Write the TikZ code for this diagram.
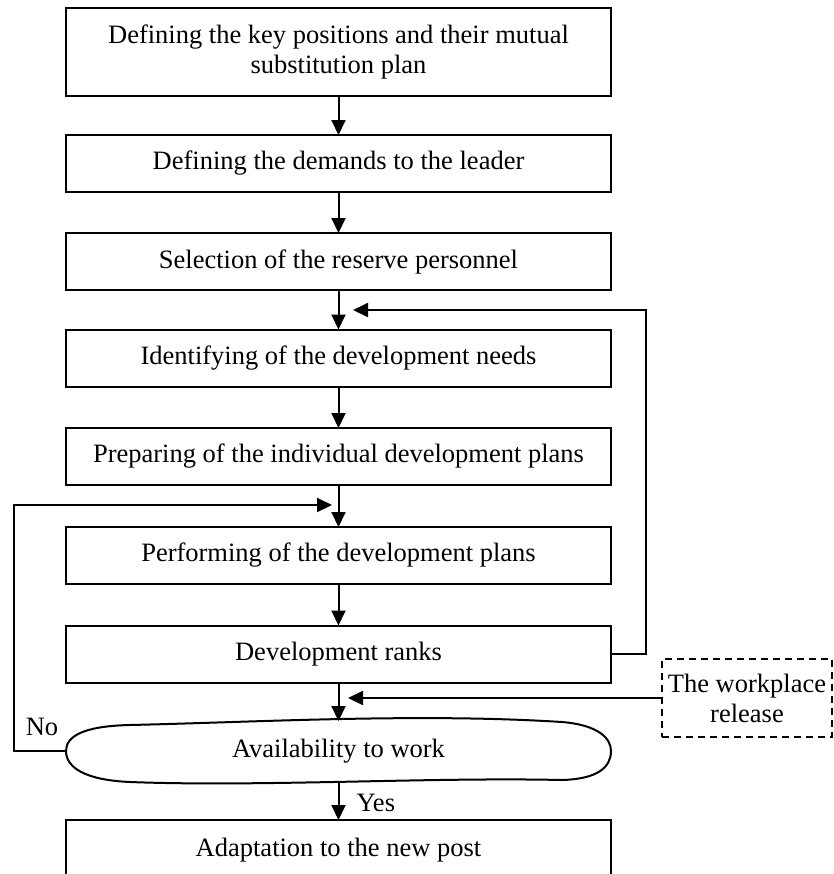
\documentclass[tikz,border=0pt]{standalone}
\usepackage{fontspec}
\setmainfont{Liberation Serif}
\usetikzlibrary{arrows.meta}
\begin{document}
\begin{tikzpicture}[x=0.5pt,y=-0.5pt,
  txt/.style={font=\fontsize{13.25}{15}\selectfont},
  box/.style={txt, draw, line width=1pt, minimum width=272.75pt,
    minimum height=28.5pt, inner sep=0pt, outer sep=0pt, align=center},
  flow/.style={line width=1pt, -{Triangle[length=7.5pt,width=7pt]}},
  link/.style={line width=1pt},
  lbl/.style={txt, inner sep=0pt}]
\useasboundingbox (0,0) rectangle (834,874);

% main chain of steps
\node[box, minimum height=44pt] (keypos) at (338.5,52)
  {Defining the key positions and their mutual\\substitution plan};
\node[box] (demands) at (338.5,163.5) {Defining the demands to the leader};
\node[box] (select)  at (338.5,261.5) {Selection of the reserve personnel};
\node[box] (needs)   at (338.5,358)   {Identifying of the development needs};
\node[box] (plans)   at (338.5,456.5) {Preparing of the individual development plans};
\node[box] (perform) at (338.5,555.5) {Performing of the development plans};
\node[box] (ranks)   at (338.5,654)   {Development ranks};

% decision: wavy terminator shape drawn around a plain node
\node[txt, minimum width=272.5pt, minimum height=30pt, inner sep=0pt, outer sep=0pt]
  (avail) at (338.5,751) {Availability to work};
\draw[link] (66,751) .. controls (66,736) and (84,726) .. (130,725)
  .. controls (260,722) and (420,713) .. (562,722)
  .. controls (598,725) and (611,738) .. (611,751)
  .. controls (611,767) and (598,779) .. (562,780)
  .. controls (430,777) and (260,787) .. (130,782)
  .. controls (84,780) and (66,767) .. (66,751) -- cycle;

\node[box, minimum height=30pt] (adapt) at (338.5,850) {Adaptation to the new post};

% external input
\node[txt, draw, dashed, dash pattern=on 3.5pt off 2.5pt, line width=1pt,
  minimum width=85pt, minimum height=39pt, inner sep=0pt, outer sep=0pt,
  align=center] (release) at (747,698) {The workplace\\release};

% arrow targets on the trunk
\coordinate (fbneeds) at (353,310);
\coordinate (fbperf)  at (332,505);
\coordinate (inrel)   at (348,698);

% vertical flow
\draw[flow] (keypos) -- (demands);
\draw[flow] (demands) -- (select);
\draw[flow] (select) -- (needs);
\draw[flow] (needs) -- (plans);
\draw[flow] (plans) -- (perform);
\draw[flow] (perform) -- (ranks);
\draw[flow] (ranks) -- (avail);
\draw[flow] (avail) -- node[lbl, anchor=west, xshift=8.5pt, yshift=-1pt] {Yes} (adapt);

% feedback loops
\draw[flow] (ranks.east) -- (646,654) |- (fbneeds);
\draw[flow] (avail.west) -- (14,751) |- (fbperf);
\node[lbl] (no) at (42,727) {No};

% workplace release input
\draw[flow] (release.west) -- (inrel);
\end{tikzpicture}
\end{document}
